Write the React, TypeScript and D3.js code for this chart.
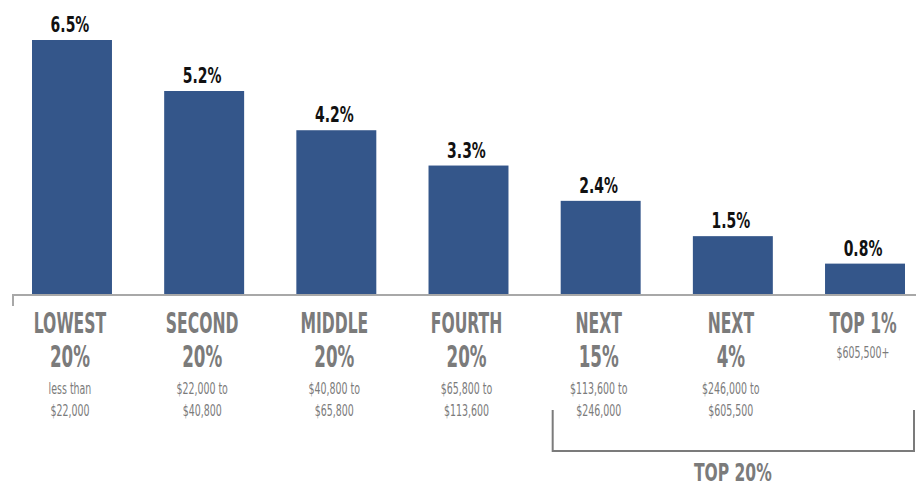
import React from "react";
import * as d3 from "d3";

const categories = ["LOWEST", "SECOND", "MIDDLE", "FOURTH", "NEXT15", "NEXT4", "TOP1"];
const values = [6.5, 5.2, 4.2, 3.3, 2.4, 1.5, 0.8];
const valueLabels = ["6.5%", "5.2%", "4.2%", "3.3%", "2.4%", "1.5%", "0.8%"];
const groupNames = ["LOWEST", "SECOND", "MIDDLE", "FOURTH", "NEXT", "NEXT", "TOP 1%"];
const groupShares = ["20%", "20%", "20%", "20%", "15%", "4%", ""];
const incomeLine1 = ["less than", "$22,000 to", "$40,800 to", "$65,800 to", "$113,600 to", "$246,000 to", "$605,500+"];
const incomeLine2 = ["$22,000", "$40,800", "$65,800", "$113,600", "$246,000", "$605,500", ""];
const bracketLabel = "TOP 20%";
const bracketStart = "NEXT15";

const W = 916;
const H = 486;
const BASE = 295;
const BAR = "#34568a";
const GRAY = "#7b7b7b";
const LINE = "#a8a8a8";
const FONT = "'Liberation Sans Narrow', 'DejaVu Sans Condensed', 'Roboto', sans-serif";

function Cond({ x, y, size, sx, fill, children, weight = 700 }: any) {
  return (
    <text
      transform={`translate(${x},${y}) scale(${sx},1)`}
      textAnchor="middle"
      fontFamily={FONT}
      fontWeight={weight}
      fontSize={size}
      fill={fill}
    >
      {children}
    </text>
  );
}

export default function App() {
  const x = d3.scaleBand<string>().domain(categories).range([32, 905]).paddingInner(0.395).paddingOuter(0);
  const y = d3.scaleLinear().domain([0, 6.5]).range([BASE, 40]);
  const bw = x.bandwidth();
  const bx0 = (x(bracketStart) as number) - 8;
  const bx1 = 914;
  const bmid = (x("NEXT4") as number) + bw / 2;

  return (
    <svg width={W} height={H} style={{ position: "absolute", left: 0, top: 0, background: "#fff" }}>
      {categories.map((c, i) => {
        const cx = (x(c) as number) + bw / 2;
        return (
          <g key={c}>
            <rect x={x(c)} y={y(values[i])} width={bw} height={BASE - y(values[i])} fill={BAR} />
            <Cond x={cx - 2} y={y(values[i]) - 8} size={21} sx={0.74} fill="#111">
              {valueLabels[i]}
            </Cond>
            <Cond x={cx - 2} y={333} size={28} sx={0.62} fill={GRAY}>
              {groupNames[i]}
            </Cond>
            {groupShares[i] && (
              <Cond x={cx - 2} y={367} size={30} sx={0.62} fill={GRAY}>
                {groupShares[i]}
              </Cond>
            )}
            <Cond x={cx - 2} y={groupShares[i] ? 394 : 358} size={15} sx={0.7} fill={GRAY} weight={400}>
              {incomeLine1[i]}
            </Cond>
            {incomeLine2[i] && (
              <Cond x={cx - 2} y={416} size={15} sx={0.7} fill={GRAY} weight={400}>
                {incomeLine2[i]}
              </Cond>
            )}
          </g>
        );
      })}
      <path d={`M13,306 V${BASE} H${W}`} fill="none" stroke={LINE} strokeWidth={2} />
      <path d={`M${bx0},410 V451 H${bx1} V410`} fill="none" stroke={GRAY} strokeWidth={2} />
      <Cond x={bmid} y={481} size={24} sx={0.72} fill={GRAY}>
        {bracketLabel}
      </Cond>
    </svg>
  );
}
